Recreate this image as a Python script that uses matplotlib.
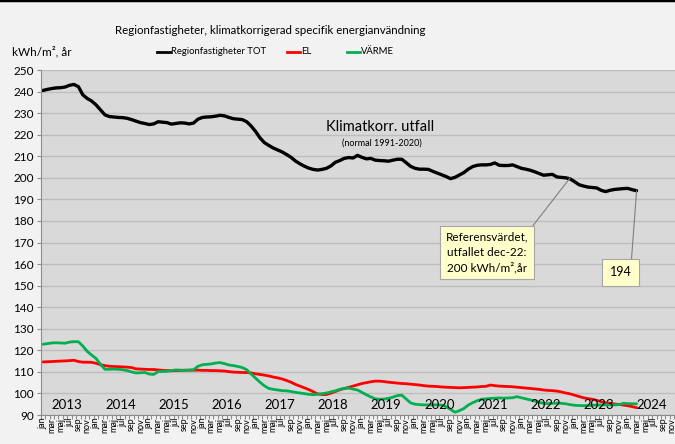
import matplotlib
matplotlib.use('Agg')
import matplotlib.pyplot as plt
import numpy as np

plt.rcParams['font.family'] = ['Lato', 'DejaVu Sans']

# månadsvärden jan 2013 - mar 2024, kWh/m2,år (rullande 12 mån)
tot = [240.5, 241.0, 241.4, 241.7, 241.8, 242.1, 242.9, 243.3, 242.3, 238.5, 236.8, 235.6,
       233.8, 231.5, 229.2, 228.4, 228.2, 228.0, 227.9, 227.6, 227.0, 226.3, 225.6, 225.2,
       224.7, 225.0, 226.0, 225.8, 225.6, 224.9, 225.2, 225.5, 225.4, 225.0, 225.4, 227.2,
       228.0, 228.2, 228.3, 228.6, 229.0, 228.7, 228.0, 227.4, 227.2, 227.0, 226.0, 224.0,
       221.5, 218.5, 216.3, 215.0, 213.8, 212.9, 212.0, 210.8, 209.5, 207.8, 206.5, 205.4,
       204.5, 203.9, 203.6, 203.9, 204.4, 205.5, 207.2, 208.0, 209.0, 209.4, 209.2, 210.4,
       209.5, 208.8, 209.0, 208.2, 208.0, 207.9, 207.7, 208.2, 208.6, 208.6, 207.0, 205.3,
       204.4, 204.0, 204.0, 203.9, 203.0, 202.2, 201.4, 200.6, 199.6, 200.2, 201.3, 202.4,
       204.0, 205.2, 205.8, 206.0, 206.0, 206.2, 206.9, 205.8, 205.7, 205.7, 206.0, 205.2,
       204.4, 204.0, 203.5, 202.8, 202.0, 201.2, 201.4, 201.6, 200.4, 200.2, 200.0, 199.5,
       198.2, 196.8, 196.2, 195.7, 195.5, 195.3, 194.2, 193.6, 194.2, 194.6, 194.8, 195.0,
       195.1, 194.5, 194.0]

el = [114.6, 114.7, 114.8, 114.9, 115.0, 115.1, 115.2, 115.4, 114.8, 114.5, 114.5, 114.4,
      114.0, 113.3, 112.9, 112.6, 112.5, 112.4, 112.3, 112.2, 112.0, 111.4, 111.3, 111.2,
      111.1, 111.1, 110.9, 110.7, 110.6, 110.5, 110.6, 110.7, 110.8, 110.8, 110.8, 110.8,
      110.7, 110.7, 110.6, 110.6, 110.5, 110.4, 110.1, 109.9, 109.8, 109.7, 109.7, 109.5,
      109.1, 108.8, 108.5, 108.1, 107.6, 107.2, 106.7, 106.0, 105.2, 104.2, 103.4, 102.6,
      101.8, 100.8, 99.8, 99.5, 99.5, 100.1, 100.9, 101.7, 102.3, 102.8, 103.4, 104.0,
      104.6, 105.0, 105.4, 105.7, 105.7, 105.5, 105.2, 105.0, 104.8, 104.6, 104.5, 104.3,
      104.1, 103.9, 103.6, 103.4, 103.3, 103.2, 103.0, 102.9, 102.8, 102.7, 102.6, 102.7,
      102.8, 102.9, 103.0, 103.2, 103.3, 103.9, 103.6, 103.4, 103.3, 103.2, 103.1, 102.9,
      102.7, 102.5, 102.3, 102.1, 101.9, 101.6, 101.4, 101.3, 101.1, 100.7, 100.2, 99.8,
      99.2, 98.6, 98.0, 97.6, 97.3, 96.8, 96.2, 95.7, 95.4, 95.1, 94.9, 94.6,
      94.3, 93.9, 93.4]

varme = [122.8, 123.1, 123.4, 123.5, 123.4, 123.3, 123.8, 124.0, 124.0, 122.0, 119.5, 117.8,
         116.2, 113.5, 111.2, 111.2, 111.3, 111.2, 111.0, 110.6, 110.0, 109.5, 109.6, 109.7,
         109.0, 108.8, 110.1, 110.2, 110.3, 110.6, 110.9, 110.8, 110.6, 110.8, 111.0, 112.6,
         113.3, 113.5, 113.7, 114.1, 114.3, 113.8, 113.2, 112.9, 112.5, 112.0, 111.0, 109.0,
         107.1, 105.2, 103.5, 102.3, 101.9, 101.6, 101.3, 101.2, 100.9, 100.5, 100.2, 99.9,
         99.6, 99.4, 99.6, 99.9, 100.2, 100.7, 101.2, 101.9, 102.3, 102.5, 102.0, 101.6,
         100.5, 99.4, 98.4, 97.5, 97.3, 97.4, 97.7, 98.3, 99.0, 99.2, 97.4, 95.6,
         95.0, 94.8, 94.7, 94.7, 94.7, 94.7, 94.6, 93.9, 92.6, 91.3, 92.0, 93.0,
         94.6, 95.7, 96.6, 97.3, 97.5, 97.7, 97.8, 97.9, 97.8, 97.9, 98.0, 98.5,
         98.0, 97.5, 97.0, 96.5, 95.9, 95.4, 95.3, 95.4, 95.5, 95.4, 95.2, 94.8,
         94.5, 94.4, 94.3, 94.4, 94.5, 94.6, 94.7, 94.7, 94.7, 94.7, 94.8, 95.4,
         95.3, 95.2, 95.2]

years = list(range(2013, 2025))
months = ['jan', 'feb', 'mar', 'apr', 'maj', 'jun', 'jul', 'aug', 'sep', 'okt', 'nov', 'dec']

n_months = len(years) * 12
x = np.arange(len(tot)) + 0.5

fig = plt.figure(figsize=(6.75, 4.44), dpi=100, facecolor='#F2F2F2')
ax = fig.add_axes([40.7 / 675, 29 / 444, 638 / 675, 345 / 444])
ax.set_facecolor('#D9D9D9')

l_tot, = ax.plot(x, tot, color='black', lw=2.4, solid_capstyle='round')
l_el, = ax.plot(x, el, color='#FF0000', lw=2.0, solid_capstyle='round')
l_v, = ax.plot(x, varme, color='#00B050', lw=2.0, solid_capstyle='round')

ax.set_xlim(0, n_months)
ax.set_ylim(90, 250)
ax.set_yticks(range(90, 251, 10))
ax.yaxis.grid(True, color='#BEBEBE', lw=1)
ax.set_axisbelow(True)
for s in ['top', 'right']:
    ax.spines[s].set_visible(False)
ax.spines['left'].set_color('#8C8C8C')
ax.spines['bottom'].set_color('#8C8C8C')
ax.tick_params(axis='y', length=3, color='#8C8C8C', labelsize=8.5, pad=2)

# tickmarks at every month, labels every second month
ax.set_xticks(np.arange(0, n_months + 1), minor=False)
ax.set_xticklabels([])
ax.tick_params(axis='x', which='major', length=3, color='#8C8C8C')
lab_pos = np.arange(0, n_months, 2) + 0.5
ax.set_xticks(lab_pos, minor=True)
ax.set_xticklabels([months[int(p) % 12] for p in lab_pos], minor=True, rotation=90, fontsize=6.5)
ax.tick_params(axis='x', which='minor', length=0, pad=2)

for k, yr in enumerate(years):
    ax.text(k * 12 + 6, 94.5, str(yr), ha='center', va='center', fontsize=9.5)

ax.text(76.6, 223.6, 'Klimatkorr. utfall', ha='center', va='center', fontsize=10.5)
ax.text(77.0, 216.2, '(normal 1991-2020)', ha='center', va='center', fontsize=6.5)

box = dict(boxstyle='square,pad=0.5', fc='#FFFFCC', ec='#A6A6A6', lw=0.8)
ax.annotate('Referensvärdet,\nutfallet dec-22:\n200 kWh/m²,år', xy=(119.5, tot[119] + 0.5),
            xytext=(100.7, 165.4), ha='center', va='center', fontsize=8.5, linespacing=1.4,
            bbox=box, arrowprops=dict(arrowstyle='-', color='#7F7F7F', lw=0.8, relpos=(1, 1),
                                      shrinkA=0, shrinkB=0))
ax.annotate(f'{tot[-1]:.0f}', xy=(x[-1], tot[-1]), xytext=(130.9, 156.1),
            ha='center', va='center', fontsize=9, bbox=dict(boxstyle='square,pad=0.6', fc='#FFFFCC',
                                                           ec='#A6A6A6', lw=0.8),
            arrowprops=dict(arrowstyle='-', color='#7F7F7F', lw=0.8, relpos=(0.97, 1),
                            shrinkA=0, shrinkB=0))

fig.text(270 / 675, 1 - 30 / 444, 'Regionfastigheter, klimatkorrigerad specifik energianvändning',
         ha='center', va='center', fontsize=8.3)
fig.text(12 / 675, 1 - 52 / 444, 'kWh/m², år', ha='left', va='center', fontsize=8.5)

# legend entries placed like the original
leg_y = 1 - 52 / 444
for line, name, x0 in [(l_tot, 'Regionfastigheter TOT', 157), (l_el, 'EL', 287), (l_v, 'VÄRME', 347)]:
    fig.add_artist(plt.Line2D([x0 / 675, (x0 + 13) / 675], [leg_y, leg_y], transform=fig.transFigure,
                              color=line.get_color(), lw=2.0))
    fig.text((x0 + 14) / 675, leg_y, name, ha='left', va='center', fontsize=6.8)

fig.add_artist(plt.Line2D([0, 1], [1, 1], transform=fig.transFigure, color='black', lw=2.5))

fig.savefig('out.png', dpi=100, facecolor=fig.get_facecolor())
